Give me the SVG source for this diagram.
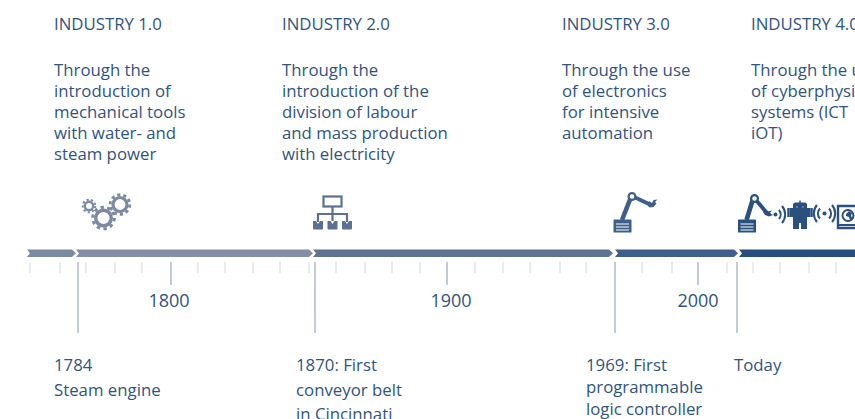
<svg xmlns="http://www.w3.org/2000/svg" width="855" height="419" viewBox="0 0 855 419">
<style>
text{font-family:"Open Sans","Noto Sans","Liberation Sans",sans-serif;font-size:16.8px;fill:#2f5480}
.year{font-size:18px;text-anchor:middle}
.minor{stroke:#dfe3ea;stroke-width:1.4;fill:none}
.major{stroke:#a9b3c6;stroke-width:1.4;fill:none}
.long{stroke:#b3bccd;stroke-width:1.5;fill:none}
</style>
<rect width="855" height="419" fill="#fff"/>
<g id="industry1"><text x="54" y="30">INDUSTRY 1.0</text>
<text x="54" y="76">Through the</text><text x="54" y="97">introduction of</text><text x="54" y="118">mechanical tools</text><text x="54" y="139">with water- and</text><text x="54" y="160">steam power</text></g>
<g id="industry2"><text x="282" y="30">INDUSTRY 2.0</text>
<text x="282" y="76">Through the</text><text x="282" y="97">introduction of the</text><text x="282" y="118">division of labour</text><text x="282" y="139">and mass production</text><text x="282" y="160">with electricity</text></g>
<g id="industry3"><text x="562" y="30">INDUSTRY 3.0</text>
<text x="562" y="76">Through the use</text><text x="562" y="97">of electronics</text><text x="562" y="118">for intensive</text><text x="562" y="139">automation</text></g>
<g id="industry4"><text x="751" y="30">INDUSTRY 4.0</text>
<text x="751" y="76">Through the u</text><text x="751" y="97">of cyberphysi</text><text x="751" y="118">systems (ICT</text><text x="751" y="139">iOT)</text></g>
<g id="icon-gears" fill="none" stroke="#7c89a3">
<circle cx="89" cy="206" r="4.200" stroke-width="2.400"/><circle cx="89" cy="206" r="6.300" stroke-width="2" stroke-dasharray="2.200 2.200"/>
<circle cx="120" cy="204.500" r="7" stroke-width="3.200"/><circle cx="120" cy="204.500" r="9.800" stroke-width="2.800" stroke-dasharray="3.200 2.950"/>
<circle cx="103.500" cy="218" r="7.800" stroke-width="3.400"/><circle cx="103.500" cy="218" r="10.800" stroke-width="3" stroke-dasharray="3.400 3.390"/>
</g>
<g id="icon-hierarchy" fill="none" stroke="#5c7091" stroke-width="2.200">
<rect x="323.500" y="196.500" width="18" height="10"/><path d="M332.500 206.500V221M318 222V214H347V222"/>
<path d="M313 221h3l2 3 2-3h3v7.500a1 1 0 0 1-1 1h-8a1 1 0 0 1-1-1zM327.500 221h3l2 3 2-3h3v7.500a1 1 0 0 1-1 1h-8a1 1 0 0 1-1-1zM342 221h3l2 3 2-3h3v7.500a1 1 0 0 1-1 1h-8a1 1 0 0 1-1-1z" fill="#5c7091" stroke="none"/>
</g>
<g id="icon-robot3">
<rect x="613.500" y="219.500" width="18" height="13" rx="0.500" fill="#3f5f8b"/><path d="M616 224h13M616 227h13M616 230h13" stroke="#fff" stroke-width="1"/>
<path d="M622 220L631 197" stroke="#3f5f8b" stroke-width="4.600" fill="none"/><path d="M632 196L651 205" stroke="#3f5f8b" stroke-width="3.800" fill="none"/>
<circle cx="632" cy="196.500" r="3.400" fill="#fff" stroke="#3f5f8b" stroke-width="2.200"/>
<path d="M649 201l3 2 1.500-3 4 -.5-2.500 2.500 1.500 1.500-3 3.500-3.500.5-2-1.500z" fill="#3f5f8b"/>
</g>
<g id="icon-robot4">
<rect x="738" y="219.500" width="18" height="13" rx="0.500" fill="#2a5080"/><path d="M740.500 224h13M740.500 227h13M740.500 230h13" stroke="#fff" stroke-width="1"/>
<path d="M746.500 220L753 199" stroke="#2a5080" stroke-width="4.600" fill="none"/><path d="M755 199L767 213" stroke="#2a5080" stroke-width="3.800" fill="none"/>
<circle cx="754.500" cy="198.500" r="3.400" fill="#fff" stroke="#2a5080" stroke-width="2.200"/>
<path d="M765 209l3 2.500 4-1-2 2.500 3 2-4 1.500-4-1.500-2-3z" fill="#2a5080"/>
<circle cx="775.500" cy="214.500" r="2" fill="#2a5080"/>
<path d="M779 210a7 7 0 0 1 0 9M782 206a13 13 0 0 1 0 17" stroke="#2a5080" stroke-width="2" fill="none"/>
<path d="M790 208h20v9h-3v12h-6v-6h-2v6h-6v-12h-3z" fill="#2a5080"/><rect x="793" y="202.500" width="14" height="9" rx="2.500" fill="#2a5080"/><path d="M800 203v-2.500" stroke="#2a5080" stroke-width="1.500"/>
<path d="M788.500 208v9M811.500 208v9" stroke="#2a5080" stroke-width="2.500"/>
<circle cx="797" cy="207" r="1" fill="#6d8aac"/><circle cx="803" cy="207" r="1" fill="#6d8aac"/>
<circle cx="824.500" cy="213.500" r="2" fill="#2a5080"/>
<path d="M820 208.500a7 7 0 0 0 0 10M829 208.500a7 7 0 0 1 0 10M817 205a13 13 0 0 0 0 17M832 205a13 13 0 0 1 0 17" stroke="#2a5080" stroke-width="2" fill="none"/>
<path d="M855 206H838v22h17" fill="none" stroke="#2a5080" stroke-width="2.400"/><path d="M838 225h17" stroke="#2a5080" stroke-width="2"/>
<circle cx="848" cy="215.500" r="5.500" fill="#fff" stroke="#2a5080" stroke-width="2"/><path d="M846 214l3-3 3 2-1 3 2 3-3 1-1-3-3-1z" fill="#2a5080"/>
</g>
<g id="connectors">
<g id="timeline-bar">
<path d="M27 249.500H72L76 253.300L72 257H27L30 253.300Z" fill="#7c89a3"/>
<path d="M76 249.500H309L313 253.300L309 257H76L79 253.300Z" fill="#838fa8"/>
<path d="M313 249.500H609L613 253.300L609 257H313L316 253.300Z" fill="#5f7392"/>
<path d="M615 249.500H734L738 253.300L734 257H615L618 253.300Z" fill="#3f5f8b"/>
<path d="M739 249.500H855V257H739L742 253.300Z" fill="#264f7f"/>
</g>
<path class="minor" d="M30 262v11M60 262v11M86 262v11M115 262v11M142 262v11M198 262v11M225 262v11M253 262v11M280 262v11M309 262v11M336 262v11M365 262v11M392 262v11M420 262v11M475 262v11M503 262v11M530 262v11M560 262v11M586 262v11M642 262v11M672 262v11M727 262v11M753 262v11M780 262v11M809 262v11M836 262v11"/>
<path class="major" d="M171 262v23M447 262v23M698 262v23"/>
<path class="long" d="M78 262v71M315 262v71M615 262v71M737 262v71"/>
</g>
<g id="years"><text class="year" x="169" y="307">1800</text><text class="year" x="451" y="307">1900</text><text class="year" x="698" y="307">2000</text></g>
<g id="event-1784"><text x="54" y="371">1784</text><text x="54" y="396">Steam engine</text></g>
<g id="event-1870"><text x="296" y="371">1870: First</text><text x="296" y="396">conveyor belt</text><text x="296" y="420">in Cincinnati</text></g>
<g id="event-1969"><text x="586" y="371">1969: First</text><text x="586" y="393">programmable</text><text x="586" y="415">logic controller</text></g>
<g id="event-today"><text x="734" y="371">Today</text></g>
</svg>
